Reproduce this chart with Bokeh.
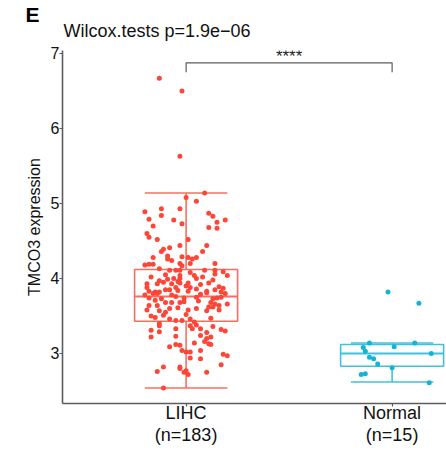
from bokeh.plotting import figure
from bokeh.models import FixedTicker, Label, ColumnDataSource, Title
from bokeh.embed import file_html
from bokeh.resources import INLINE

# ---------------- data ----------------
categories = ["LIHC", "Normal"]
tick_labels = ["LIHC\n(n=183)", "Normal\n(n=15)"]
title_text = "Wilcox.tests p=1.9e\u221206"
panel_tag = "E"
signif = "****"

# box statistics
q1 = [3.43, 2.83]
median = [3.76, 3.00]
q3 = [4.12, 3.12]
whisker_low = [2.54, 2.62]
whisker_high = [5.14, 3.14]

# LIHC jittered points: value, jitter offset (category units)
lihc_values = [
    6.67, 6.50, 5.63, 5.14, 5.08, 5.03, 4.89, 4.93, 4.93, 4.84, 4.79, 4.78, 4.87, 4.83, 4.78,
    4.73, 4.70, 4.75, 4.68, 4.67, 4.60, 4.55, 4.52, 4.52, 4.44, 4.44, 4.41, 4.39, 4.36, 4.36,
    4.28, 4.30, 4.26, 4.29, 4.28, 4.26, 4.28, 4.20, 4.20, 4.18, 4.19, 4.19, 4.11, 4.11, 4.11,
    4.17, 4.11, 4.11, 4.05, 4.04, 4.04, 4.06, 4.04, 4.00, 4.00, 4.00, 3.97, 3.94, 3.94, 3.93,
    3.93, 3.93, 3.92, 3.94, 3.88, 3.88, 3.88, 3.89, 3.83, 3.82, 3.82, 3.85, 3.85, 3.84, 3.83,
    3.83, 3.85, 3.82, 3.74, 3.73, 3.76, 3.74, 3.75, 3.73, 3.74, 3.75, 3.80, 3.80, 3.81, 3.80,
    3.68, 3.68, 3.68, 3.69, 3.64, 3.64, 3.68, 3.66, 3.64, 3.62, 3.62, 3.57, 3.60, 3.61, 3.60,
    3.57, 3.58, 3.48, 3.51, 3.46, 3.44, 3.44, 3.46, 3.42, 3.37, 3.38, 3.33, 3.37, 3.33, 3.33,
    3.31, 3.29, 3.28, 3.36, 3.32, 3.30, 3.22, 3.23, 3.24, 3.20, 3.22, 3.09, 3.12, 3.11, 3.14,
    3.16, 3.13, 3.12, 3.04, 3.02, 3.02, 3.04, 2.94, 2.93, 2.99, 2.97, 2.85, 2.82, 2.76, 2.82,
    2.80, 2.75, 2.77, 2.72, 2.75, 2.54, 3.78, 3.79, 3.95, 3.90, 3.98, 4.02, 4.08, 4.13, 4.09,
    3.70, 3.71, 3.58, 3.66, 3.55, 3.50, 3.47, 3.52, 3.87, 3.96, 3.78, 3.86, 3.99, 4.02, 3.58,
    4.20, 3.40, 4.24,
]
lihc_jitter = [
    -0.13, -0.02, -0.03, 0.09, 0.00, 0.05, -0.20, -0.12, -0.03, -0.12, -0.18, -0.06, 0.11, 0.13, 0.19,
    -0.02, -0.16, 0.15, 0.11, 0.15, -0.19, -0.18, -0.14, 0.01, -0.03, 0.10, -0.08, -0.11, -0.12, 0.08,
    -0.16, -0.09, -0.09, -0.02, 0.01, 0.03, 0.05, 0.02, -0.03, -0.20, -0.18, -0.16, -0.08, -0.05, -0.03,
    -0.02, 0.09, 0.14, -0.10, -0.03, 0.04, 0.14, 0.20, -0.06, -0.03, 0.05, -0.13, -0.03, 0.01, -0.19,
    -0.14, -0.07, 0.07, 0.11, -0.19, -0.05, 0.02, 0.16, -0.18, -0.15, -0.13, -0.10, -0.08, -0.04, 0.01,
    0.10, 0.14, 0.17, -0.18, -0.12, -0.05, -0.01, 0.05, 0.13, 0.15, 0.17, -0.16, -0.14, 0.10, 0.19,
    -0.10, -0.07, -0.03, -0.01, -0.18, -0.14, 0.12, 0.14, 0.16, 0.11, 0.13, -0.13, -0.08, -0.04, 0.05,
    0.10, 0.16, -0.15, -0.11, -0.08, -0.05, -0.02, 0.02, 0.04, -0.13, 0.05, -0.05, 0.02, 0.03, 0.07,
    -0.17, -0.13, 0.10, 0.13, 0.17, 0.19, -0.17, -0.05, 0.07, 0.10, 0.12, -0.08, -0.05, -0.03, 0.04,
    0.09, 0.11, 0.12, -0.02, 0.00, 0.02, 0.07, 0.02, 0.07, 0.18, 0.20, 0.17, -0.11, -0.14, -0.03,
    -0.03, -0.01, 0.00, 0.01, 0.10, -0.11, -0.07, 0.07, -0.11, 0.00, 0.13, -0.17, 0.02, -0.13, 0.18,
    0.06, -0.15, 0.01, 0.20, -0.10, -0.17, 0.12, 0.00, 0.18, -0.04, -0.20, 0.05, -0.09, 0.08, -0.19,
    0.14, -0.13, -0.07,
]

normal_values = [3.82, 3.67, 3.14, 3.09, 3.14, 3.08, 3.03, 3.00, 2.95, 2.93, 2.86, 2.81, 2.72, 2.73, 2.61]
normal_jitter = [-0.02, 0.13, -0.11, 0.01, 0.11, -0.14, -0.13, 0.19, -0.11, -0.09, -0.07, 0.00, -0.15, -0.13, 0.18]

bracket_y = 6.876
bracket_tick_y = 6.75

# ---------------- style ----------------
FONT = "Liberation Sans"
point_colors = ["#FC4637", "#12B4D5"]
box_colors = ["#FC6C5E", "#40C2DE"]
axis_color = "#5c5c5c"

p = figure(width=446, height=461, output_backend="svg", toolbar_location=None, title=None,
           x_range=(0.4, 2.264), y_range=(2.333, 7.04),
           min_border_left=62, min_border_right=0, min_border_top=50, min_border_bottom=58)
p.outline_line_color = None
p.grid.visible = False
p.background_fill_color = "white"
p.border_fill_color = "white"

box_half = 0.25
cap_half = 0.2
for i, cat in enumerate(categories):
    xc = i + 1
    col = box_colors[i]
    p.quad(left=[xc - box_half], right=[xc + box_half], bottom=[q1[i]], top=[q3[i]],
           fill_color=None, line_color=col, line_width=1.6)
    p.segment(x0=[xc - box_half], x1=[xc + box_half], y0=[median[i]], y1=[median[i]],
              line_color=col, line_width=2.2)
    p.segment(x0=[xc, xc], x1=[xc, xc], y0=[q3[i], q1[i]], y1=[whisker_high[i], whisker_low[i]],
              line_color=col, line_width=1.6)
    p.segment(x0=[xc - cap_half, xc - cap_half], x1=[xc + cap_half, xc + cap_half],
              y0=[whisker_high[i], whisker_low[i]], y1=[whisker_high[i], whisker_low[i]],
              line_color=col, line_width=1.6)

src1 = ColumnDataSource(dict(x=[1 + j for j in lihc_jitter], y=lihc_values))
src2 = ColumnDataSource(dict(x=[2 + j for j in normal_jitter], y=normal_values))
p.scatter("x", "y", source=src1, size=5, color=point_colors[0], line_color=None)
p.scatter("x", "y", source=src2, size=5, color=point_colors[1], line_color=None)

# significance bracket
p.line(x=[1, 1, 2, 2], y=[bracket_tick_y, bracket_y, bracket_y, bracket_tick_y],
       line_color=axis_color, line_width=1.2)
p.add_layout(Label(x=1.5, y=bracket_y + 0.08, text=signif, text_align="center",
                   text_baseline="alphabetic", text_font=FONT, text_font_size="17px",
                   text_color="#222222"))

# axes
p.xaxis.ticker = FixedTicker(ticks=[1, 2])
p.xaxis.major_label_overrides = {1: tick_labels[0], 2: tick_labels[1]}
p.yaxis.ticker = FixedTicker(ticks=[3, 4, 5, 6, 7])
for ax in (p.xaxis[0], p.yaxis[0]):
    ax.axis_line_color = axis_color
    ax.axis_line_width = 1.6
    ax.major_tick_line_color = axis_color
    ax.major_tick_line_width = 1.2
    ax.major_tick_out = 3
    ax.major_tick_in = 0
    ax.minor_tick_out = 0
    ax.minor_tick_in = 0
    ax.major_label_text_font = FONT
    ax.major_label_text_color = "#111111"
p.xaxis.major_label_standoff = -4
p.yaxis.major_label_standoff = 0
p.xaxis.major_label_text_font_size = "18px"
p.xaxis.major_label_text_line_height = 1.1
p.yaxis.major_label_text_font_size = "16px"
p.yaxis.axis_label = "TMCO3 expression"
p.yaxis.axis_label_text_font = FONT
p.yaxis.axis_label_text_font_size = "16px"
p.yaxis.axis_label_text_font_style = "normal"
p.yaxis.axis_label_text_color = "#111111"
p.yaxis.axis_label_standoff = 5

# title and panel tag (stacked above the frame)
p.add_layout(Title(text=title_text, align="left", offset=1, text_font=FONT,
                   text_font_size="18px", text_font_style="normal", text_color="#111111",
                   vertical_align="bottom", standoff=20), "above")
p.add_layout(Title(text=panel_tag, align="left", offset=-37, text_font=FONT,
                   text_font_size="21px", text_font_style="bold", text_color="#000000",
                   vertical_align="bottom", standoff=-35), "above")

open("out.html", "w").write(file_html(p, INLINE))
